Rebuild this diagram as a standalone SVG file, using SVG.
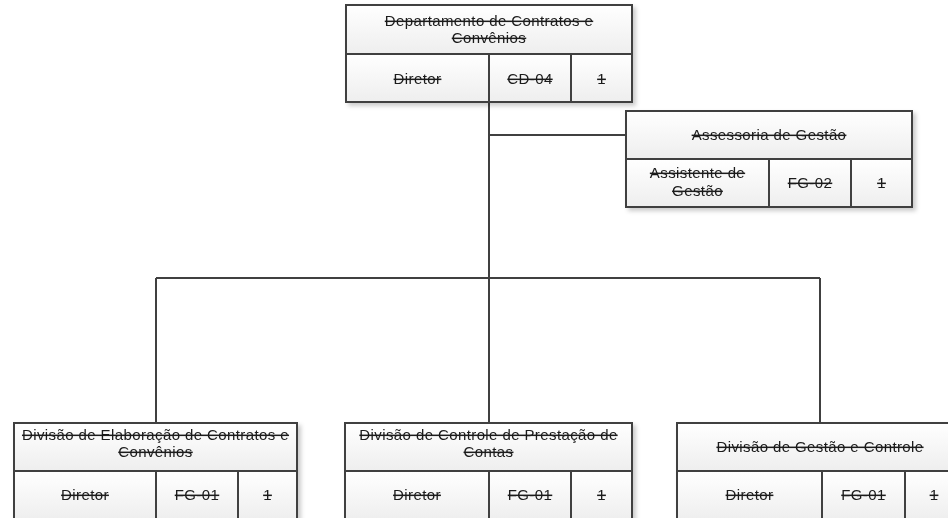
<svg xmlns="http://www.w3.org/2000/svg" width="948" height="518" viewBox="0 0 948 518">
<style>
.cell{fill:url(#g);stroke:#404040;stroke-width:2}
.t{font-family:"Liberation Sans",Arial,sans-serif;font-size:15px;letter-spacing:0.4px;fill:#1a1a1a;text-anchor:middle;text-decoration:line-through}
.c{fill:none;stroke:#404040;stroke-width:2}
</style>
<defs>
<linearGradient id="g" x1="0" y1="0" x2="0" y2="1">
<stop offset="0" stop-color="#ffffff"/>
<stop offset="1" stop-color="#eeeeee"/>
</linearGradient>
<filter id="sh" x="-10%" y="-10%" width="130%" height="140%">
<feDropShadow dx="3" dy="3" stdDeviation="2" flood-color="#000" flood-opacity="0.2"/>
</filter>
</defs>
<rect width="948" height="518" fill="#ffffff"/>
<g id="connectors">
<path class="c" d="M489 102 V278"/>
<path class="c" d="M489 135 H626"/>
<path class="c" d="M156 278 H820"/>
<path class="c" d="M156 278 V423"/>
<path class="c" d="M489 278 V423"/>
<path class="c" d="M820 278 V423"/>
</g>
<g id="dept" filter="url(#sh)">
<rect class="cell" x="346" y="5" width="286" height="49"/>
<rect class="cell" x="346" y="54" width="143" height="48"/>
<rect class="cell" x="489" y="54" width="82" height="48"/>
<rect class="cell" x="571" y="54" width="61" height="48"/>
<text class="t" x="489" y="26">Departamento de Contratos e</text>
<text class="t" x="489" y="43">Convênios</text>
<text class="t" x="417.5" y="84">Diretor</text>
<text class="t" x="530" y="84">CD-04</text>
<text class="t" x="601.5" y="84">1</text>
</g>
<g id="assessoria" filter="url(#sh)">
<rect class="cell" x="626" y="111" width="286" height="48"/>
<rect class="cell" x="626" y="159" width="143" height="48"/>
<rect class="cell" x="769" y="159" width="82" height="48"/>
<rect class="cell" x="851" y="159" width="61" height="48"/>
<text class="t" x="769" y="140">Assessoria de Gestão</text>
<text class="t" x="697.5" y="178">Assistente de</text>
<text class="t" x="697.5" y="196">Gestão</text>
<text class="t" x="810" y="188">FG-02</text>
<text class="t" x="881.5" y="188">1</text>
</g>
<g id="div-elaboracao" filter="url(#sh)">
<rect class="cell" x="14" y="423" width="283" height="48"/>
<rect class="cell" x="14" y="471" width="142" height="49"/>
<rect class="cell" x="156" y="471" width="82" height="49"/>
<rect class="cell" x="238" y="471" width="59" height="49"/>
<text class="t" x="155.5" y="440">Divisão de Elaboração de Contratos e</text>
<text class="t" x="155.5" y="457">Convênios</text>
<text class="t" x="85" y="500">Diretor</text>
<text class="t" x="197" y="500">FG-01</text>
<text class="t" x="267.5" y="500">1</text>
</g>
<g id="div-prestacao" filter="url(#sh)">
<rect class="cell" x="345" y="423" width="287" height="48"/>
<rect class="cell" x="345" y="471" width="144" height="49"/>
<rect class="cell" x="489" y="471" width="82" height="49"/>
<rect class="cell" x="571" y="471" width="61" height="49"/>
<text class="t" x="488.5" y="440">Divisão de Controle de Prestação de</text>
<text class="t" x="488.5" y="457">Contas</text>
<text class="t" x="417" y="500">Diretor</text>
<text class="t" x="530" y="500">FG-01</text>
<text class="t" x="601.5" y="500">1</text>
</g>
<g id="div-gestao" filter="url(#sh)">
<rect class="cell" x="677" y="423" width="286" height="48"/>
<rect class="cell" x="677" y="471" width="145" height="49"/>
<rect class="cell" x="822" y="471" width="83" height="49"/>
<rect class="cell" x="905" y="471" width="58" height="49"/>
<text class="t" x="820" y="452">Divisão de Gestão e Controle</text>
<text class="t" x="749.5" y="500">Diretor</text>
<text class="t" x="863.5" y="500">FG-01</text>
<text class="t" x="934" y="500">1</text>
</g>
</svg>
